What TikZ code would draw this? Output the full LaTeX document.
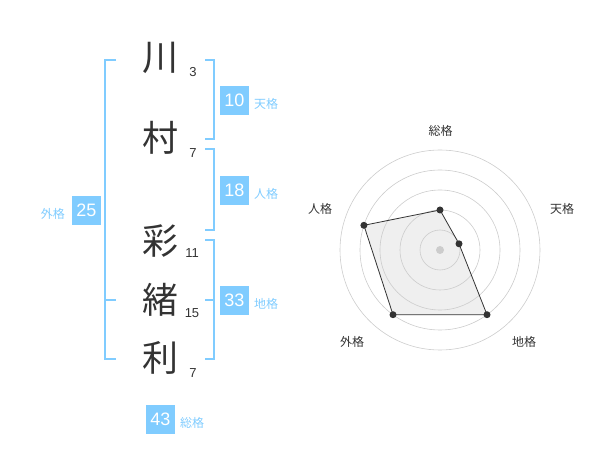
\documentclass[tikz,border=0pt]{standalone}
\usepackage{fontspec}
\setmainfont{Liberation Sans}
\newfontfamily\cjk{Noto Sans CJK JP}
\definecolor{kblue}{RGB}{128,204,255}
\definecolor{kdark}{RGB}{51,51,51}
\definecolor{kring}{RGB}{204,204,204}
\definecolor{kfill}{RGB}{239,239,239}
\tikzset{
  kanji/.style={font=\cjk\fontsize{36}{36}\selectfont, text=kdark, inner sep=0pt},
  strokes/.style={font=\fontsize{13}{13}\selectfont, text=kdark, inner sep=0pt},
  valbox/.style={fill=kblue, text=white, minimum width=29pt, minimum height=29pt, inner sep=0pt, font=\fontsize{18}{18}\selectfont},
  kakulabel/.style={font=\cjk\fontsize{12}{12}\selectfont, text=kblue, inner sep=0pt},
  bracket/.style={draw=kblue, line width=2pt},
  ring/.style={draw=kring, line width=0.6pt},
  radarlabel/.style={font=\cjk\fontsize{12}{12}\selectfont, text=kdark, inner sep=0pt},
  dot/.style={circle, fill=kdark, minimum size=7pt, inner sep=0pt},
}
\begin{document}
\begin{tikzpicture}[x=1pt,y=-1pt]
\useasboundingbox (0,0) rectangle (600,470);
% characters
\node[kanji] (k1) at (160,58) {川};
\node[kanji] (k2) at (160,138) {村};
\node[kanji] (k3) at (160,241) {彩};
\node[kanji] (k4) at (160,300) {緒};
\node[kanji] (k5) at (160,358) {利};
\node[strokes] (s1) at (193,72) {3};
\node[strokes] (s2) at (193,153) {7};
\node[strokes] (s3) at (192,253) {11};
\node[strokes] (s4) at (192,313) {15};
\node[strokes] (s5) at (193,373) {7};
% brackets
\draw[bracket] (116,60) -- (105,60) -- (105,359) -- (116,359);
\draw[bracket] (105,300) -- (116,300);
\draw[bracket] (205,60) -- (214,60) -- (214,139) -- (205,139);
\draw[bracket] (205,149) -- (214,149) -- (214,230) -- (205,230);
\draw[bracket] (205,240) -- (214,240) -- (214,359) -- (205,359);
\draw[bracket] (214,300) -- (205,300);
% value boxes
\node[valbox] (ten) at (234.5,100.5) {10};
\node[kakulabel, anchor=west] (tenl) at (254,104) {天格};
\node[valbox] (jin) at (234.5,190.5) {18};
\node[kakulabel, anchor=west] (jinl) at (254,194) {人格};
\node[valbox] (chi) at (234.5,300.5) {33};
\node[kakulabel, anchor=west] (chil) at (254,304) {地格};
\node[valbox] (gai) at (86.5,210.5) {25};
\node[kakulabel, anchor=east] (gail) at (65,214) {外格};
\node[valbox] (sou) at (160.5,419.5) {43};
\node[kakulabel, anchor=west] (soul) at (180,423) {総格};
% radar
\coordinate (c) at (440,250);
\coordinate (p1) at (440,210);
\coordinate (p2) at (459.0,243.8);
\coordinate (p3) at (487.0,314.7);
\coordinate (p4) at (393.0,314.7);
\coordinate (p5) at (363.9,225.3);
\fill[kfill] (p1) -- (p2) -- (p3) -- (p4) -- (p5) -- cycle;
\foreach \r in {20,40,60,80,100} \draw[ring] (c) circle (\r);
\draw[draw=kdark, line width=0.8pt] (p1) -- (p2) -- (p3) -- (p4) -- (p5) -- cycle;
\node[circle, fill=kring, minimum size=8pt, inner sep=0pt] (cdot) at (c) {};
\foreach \p in {p1,p2,p3,p4,p5} \node[dot] at (\p) {};
\node[radarlabel] (r1) at (440.5,131) {総格};
\node[radarlabel] (r2) at (562,209) {天格};
\node[radarlabel] (r3) at (524,342) {地格};
\node[radarlabel] (r4) at (352,342) {外格};
\node[radarlabel] (r5) at (320,209) {人格};
\end{tikzpicture}
\end{document}
